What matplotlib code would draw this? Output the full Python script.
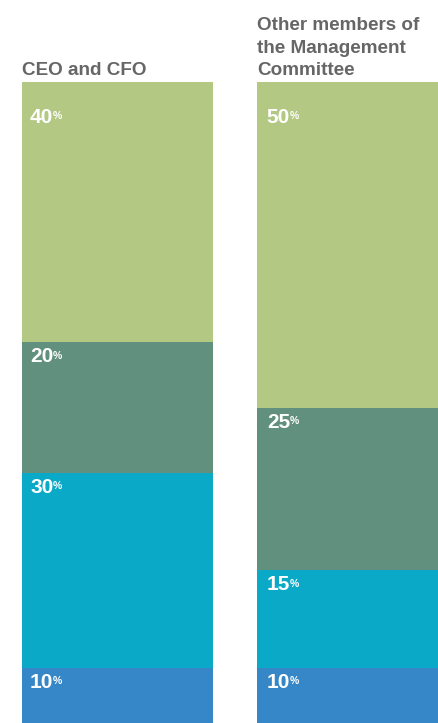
import matplotlib.pyplot as plt
import matplotlib.transforms as mtransforms

# data
groups = ["CEO and CFO", "Other members of\nthe Management\nCommittee"]
ceo_cfo = [10, 30, 20, 40]          # bottom to top
other_members = [10, 15, 25, 50]
colors = ["#3687C7", "#0BA9C8", "#62907F", "#B3C883"]

plt.rcParams['font.family'] = ['Liberation Sans', 'DejaVu Sans']

fig = plt.figure(figsize=(4.39, 7.23), dpi=100)
ax = fig.add_axes([0, 0, 1, 1])

x = [0, 1]
width = 0.812
values = [ceo_cfo, other_members]
label_dx = [8, 10]

for i, vals in enumerate(values):
    bottom = 0
    left = x[i] - width / 2
    for j, v in enumerate(vals):
        ax.bar(x[i], v, width, bottom=bottom, color=colors[j], linewidth=0)
        top = bottom + v
        # labels sit a little below the top of each segment
        pad = 26 if j == len(vals) - 1 else 5
        tr = mtransforms.offset_copy(ax.transData, fig=fig, x=label_dx[i], y=-pad, units='dots')
        t = ax.text(left, top, f"{v}", transform=tr, color="white",
                    fontsize=15, fontweight="bold", ha="left", va="top")
        ax.annotate("%", xy=(1, 1), xycoords=t, xytext=(-0.5, -2.5),
                    textcoords='offset points', color="white",
                    fontsize=7.5, fontweight="bold", ha="left", va="top")
        bottom = top
    trt = mtransforms.offset_copy(ax.transData, fig=fig, x=0, y=3, units='dots')
    ax.text(left, sum(vals), groups[i], transform=trt, color="#666666",
            fontsize=13.6, fontweight="bold", ha="left", va="bottom",
            linespacing=1.42)

ax.set_xlim(-0.5, 1.37)
ax.set_ylim(1.54, 112.6)
ax.axis('off')

fig.savefig("out.png", dpi=100)
